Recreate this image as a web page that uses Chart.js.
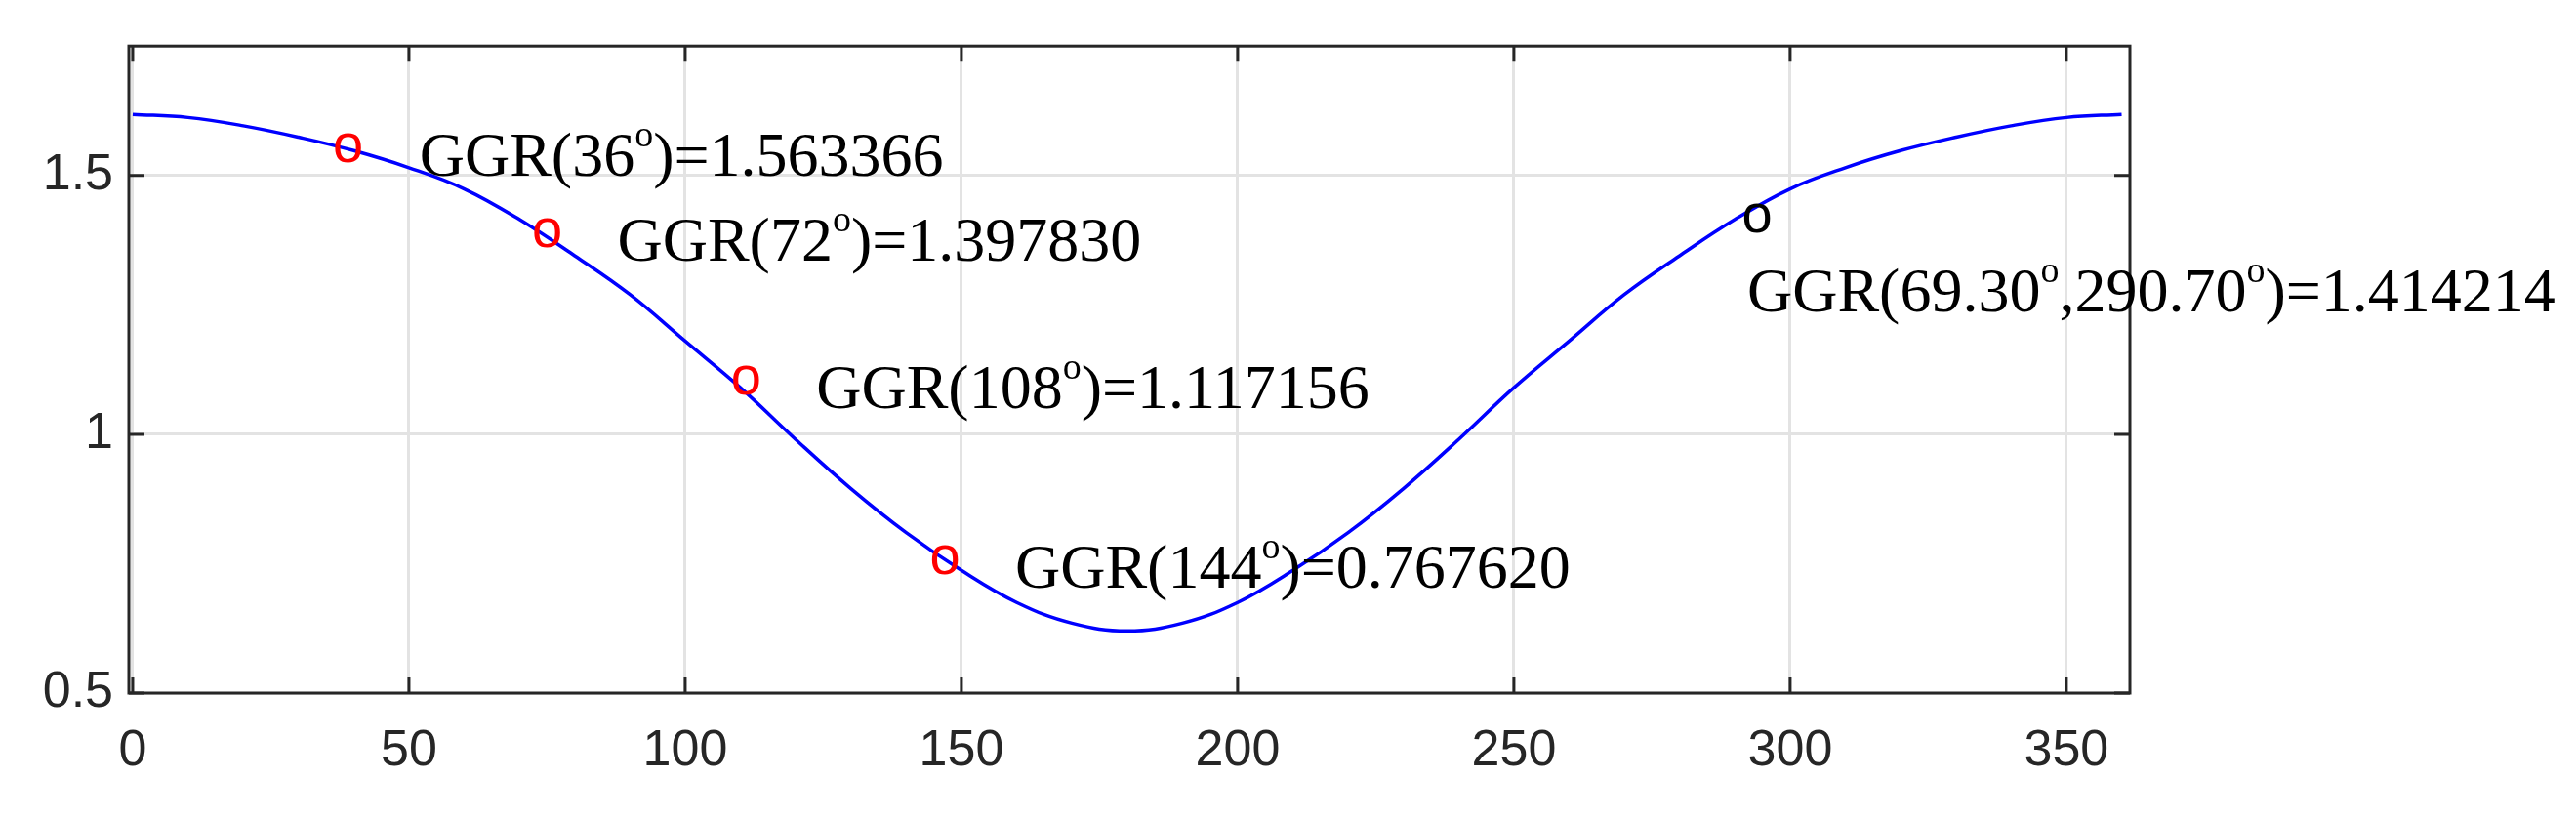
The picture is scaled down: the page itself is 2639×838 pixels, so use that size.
<!DOCTYPE html>
<html>
<head>
<meta charset="utf-8">
<script src="https://cdn.jsdelivr.net/npm/chart.js@4"></script>
<style>
  html, body { margin: 0; padding: 0; background: #fff; }
  #wrap { width: 2639px; height: 838px; }
</style>
</head>
<body>
<div id="wrap"><canvas id="ggr"></canvas></div>
<script>
// Curve (angle in degrees, GGR value)
const angles = [0,10,20,30,40,50,60,70,80,90,100,110,120,130,140,150,160,170,180,
                190,200,210,220,230,240,250,260,270,280,290,300,310,320,330,340,350,360];
const ggrValues = [1.618,1.612,1.596,1.574,1.548,1.515,1.474,1.415,1.345,1.270,1.180,1.090,0.990,0.895,0.810,0.737,0.675,0.635,0.620,
                   0.635,0.675,0.737,0.810,0.895,0.990,1.090,1.180,1.270,1.345,1.415,1.474,1.515,1.548,1.574,1.596,1.612,1.618];

// Marked points and their annotations
const markX = [39, 75, 111, 147, 294];
const markY = [1.55, 1.385, 1.10, 0.753, 1.414];
const markColor = ['#ff0000', '#ff0000', '#ff0000', '#ff0000', '#000000'];
const markText = [
    ['GGR(36', 'o', ')=1.563366'],
    ['GGR(72', 'o', ')=1.397830'],
    ['GGR(108', 'o', ')=1.117156'],
    ['GGR(144', 'o', ')=0.767620'],
    ['GGR(69.30', 'o', ',290.70', 'o', ')=1.414214']
];
const labelDx = [73, 72, 72, 72, -10];
const labelDy = [27, 26, 26, 26, 94];

const xTicks = [0, 50, 100, 150, 200, 250, 300, 350];
const yTicks = [0.5, 1, 1.5];

const frameColor = '#262626';

// Box, inward ticks on all four sides, markers and annotations
const decorPlugin = {
    id: 'decor',
    afterDraw(chart) {
        const ctx = chart.ctx;
        const xs = chart.scales.x, ys = chart.scales.y;
        const a = chart.chartArea;
        ctx.save();
        ctx.strokeStyle = frameColor;
        ctx.lineWidth = 3;
        ctx.strokeRect(a.left, a.top, a.right - a.left, a.bottom - a.top);
        const t = 16;
        ctx.beginPath();
        xTicks.forEach(v => {
            const px = xs.getPixelForValue(v);
            ctx.moveTo(px, a.bottom); ctx.lineTo(px, a.bottom - t);
            ctx.moveTo(px, a.top); ctx.lineTo(px, a.top + t);
        });
        yTicks.forEach(v => {
            const py = ys.getPixelForValue(v);
            ctx.moveTo(a.left, py); ctx.lineTo(a.left + t, py);
            ctx.moveTo(a.right, py); ctx.lineTo(a.right - t, py);
        });
        ctx.stroke();

        markX.forEach((mx, i) => {
            const px = xs.getPixelForValue(mx);
            const py = ys.getPixelForValue(markY[i]);
            ctx.fillStyle = markColor[i];
            ctx.font = '56px "Liberation Sans", Arial, sans-serif';
            ctx.textAlign = 'center';
            ctx.textBaseline = 'middle';
            ctx.fillText('o', px, py - 3);

            // annotation text with superscript degree marks
            ctx.fillStyle = '#000';
            ctx.textAlign = 'left';
            ctx.textBaseline = 'alphabetic';
            let x = px + labelDx[i];
            const base = py + labelDy[i];
            markText[i].forEach(seg => {
                if (seg === 'o') {
                    ctx.font = '38px "Liberation Serif", "Times New Roman", serif';
                    ctx.fillText(seg, x, base - 30);
                } else {
                    ctx.font = '64px "Liberation Serif", "Times New Roman", serif';
                    ctx.fillText(seg, x, base);
                }
                x += ctx.measureText(seg).width;
            });
        });
        ctx.restore();
    }
};

document.addEventListener('DOMContentLoaded', function () {
    const ctx = document.getElementById('ggr').getContext('2d');
    new Chart(ctx, {
        type: 'line',
        data: {
            datasets: [{
                data: angles.map((a, i) => ({ x: a, y: ggrValues[i] })),
                borderColor: '#0000ff',
                borderWidth: 3.5,
                pointRadius: 0,
                tension: 0.4,
                fill: false
            }]
        },
        options: {
            responsive: true,
            maintainAspectRatio: false,
            animation: false,
            layout: { padding: { top: 32, right: 457, left: 0, bottom: 0 } },
            plugins: { legend: { display: false }, tooltip: { enabled: false } },
            scales: {
                x: {
                    type: 'linear',
                    min: -0.7,
                    max: 361.5,
                    afterBuildTicks: s => { s.ticks = xTicks.map(v => ({ value: v })); },
                    afterFit: s => { s.height = 128; },
                    border: { display: false },
                    grid: { color: '#e3e3e3', lineWidth: 3, drawTicks: false },
                    ticks: {
                        color: frameColor,
                        padding: 28,
                        maxRotation: 0,
                        font: { family: '"Liberation Sans", Arial, sans-serif', size: 52 }
                    }
                },
                y: {
                    min: 0.5,
                    max: 1.75,
                    afterBuildTicks: s => { s.ticks = yTicks.map(v => ({ value: v })); },
                    afterFit: s => { s.width = 132; },
                    border: { display: false },
                    grid: { color: '#e3e3e3', lineWidth: 3, drawTicks: false },
                    ticks: {
                        color: frameColor,
                        padding: 16,
                        callback: v => String(v),
                        font: { family: '"Liberation Sans", Arial, sans-serif', size: 52 }
                    }
                }
            }
        },
        plugins: [decorPlugin]
    });
});
</script>
</body>
</html>
